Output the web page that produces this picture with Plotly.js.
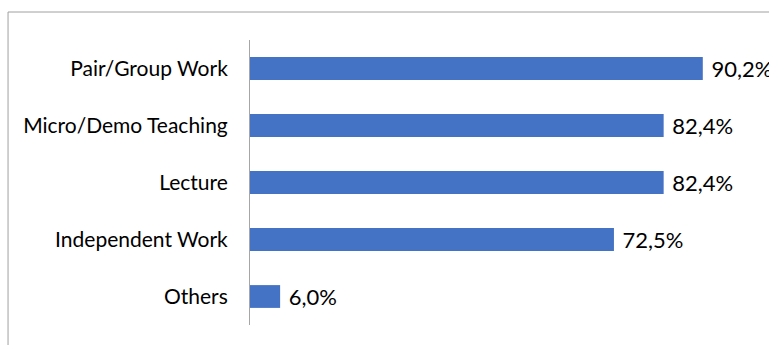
<!DOCTYPE html>
<html>
<head>
<meta charset="utf-8">
<script src="https://cdn.plot.ly/plotly-3.0.1.min.js"></script>
<style>html,body{margin:0;padding:0;background:#fff;}#chart{width:769px;height:345px;}</style>
</head>
<body>
<div id="chart"></div>
<script>
const categories = ["Pair/Group Work", "Micro/Demo Teaching", "Lecture", "Independent Work", "Others"];
const values = [90.2, 82.4, 82.4, 72.5, 6.0];

const trace = {
  type: 'bar',
  orientation: 'h',
  y: categories,
  x: values,
  marker: {color: '#4472C4'},
  width: 0.4,
  text: values,
  texttemplate: '\u00a0%{x:.1f}%',
  textposition: 'outside',
  constraintext: 'none',
  cliponaxis: false,
  textfont: {family: 'Lato, "Open Sans", sans-serif', size: 22, color: '#000'},
  hoverinfo: 'skip'
};

const layout = {
  width: 769, height: 345,
  margin: {l: 250, r: 17, t: 40, b: 20},
  paper_bgcolor: '#fff', plot_bgcolor: '#fff',
  separators: ',.',
  showlegend: false,
  xaxis: {range: [0, 100], visible: false, fixedrange: true},
  yaxis: {
    autorange: 'reversed',
    showline: true, linecolor: '#a6a6a6', linewidth: 1,
    showgrid: false, zeroline: false,
    ticks: 'outside', ticklen: 17, tickcolor: 'rgba(0,0,0,0)',
    tickfont: {family: 'Lato, "Open Sans", sans-serif', size: 21, color: '#000'}
  },
  shapes: [{
    type: 'rect', xref: 'paper', yref: 'paper',
    x0: -0.482, x1: 2, y0: -0.3, y1: 1.0982,
    line: {color: '#a0a0a0', width: 1}, fillcolor: 'rgba(0,0,0,0)', layer: 'below'
  }]
};

Plotly.newPlot('chart', [trace], layout, {displayModeBar: false, staticPlot: true});
</script>
</body>
</html>
